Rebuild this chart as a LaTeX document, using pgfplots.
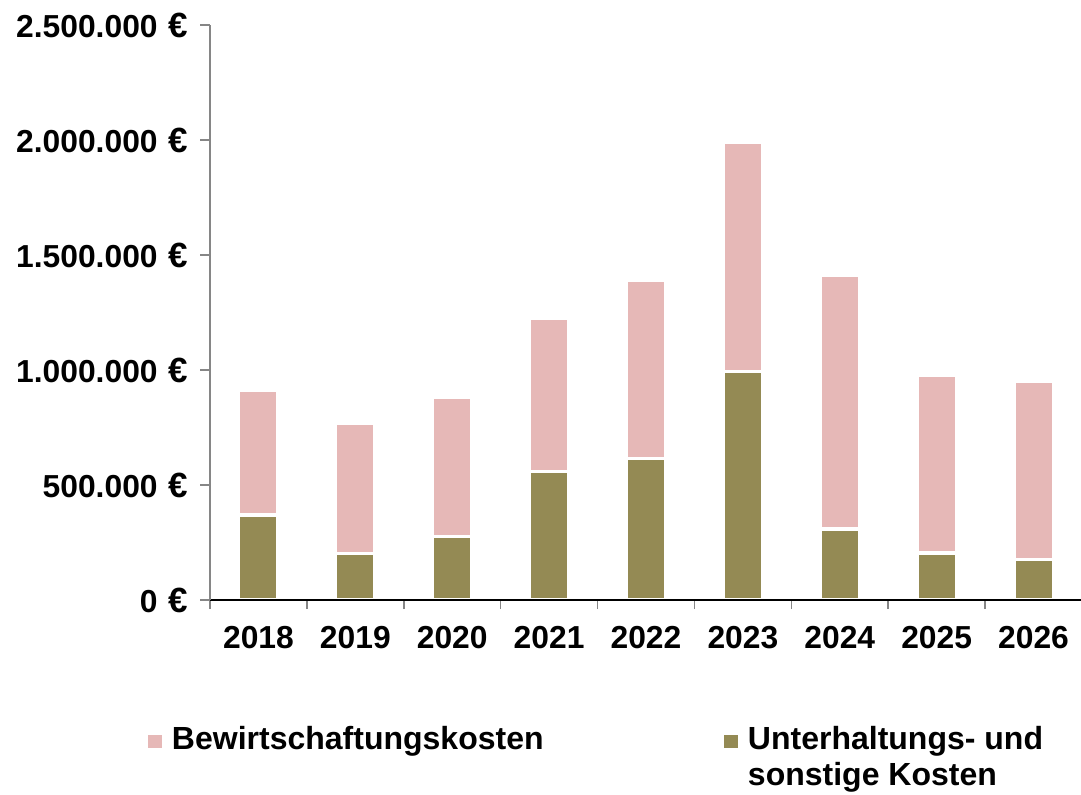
\documentclass[border=0pt]{standalone}
\usepackage{fontspec}
\setmainfont{Liberation Sans}
\usepackage{pgfplots}
\pgfplotsset{compat=1.18}
\definecolor{pinkc}{HTML}{E6B8B7}
\definecolor{olivec}{HTML}{948A54}
\definecolor{axgray}{HTML}{868686}

\pgfplotstableread{
x green pink
0 370000 542000
1 201000 568000
2 276000 605000
3 558000 666000
4 614000 776000
5 993000 997000
6 309000 1101000
7 204000 774000
8 176000 775000
}\costs

\begin{document}
\begin{tikzpicture}
\useasboundingbox (0,0) rectangle (540.5pt,397pt);
\begin{axis}[
  at={(105pt,97pt)}, anchor=south west,
  scale only axis, width=436pt, height=287.5pt,
  xmin=-0.5, xmax=8.5, ymin=0, ymax=2500000,
  ybar stacked, bar width=19.6pt,
  axis x line*=bottom, axis y line*=left,
  x axis line style={black, line width=1.2pt},
  y axis line style={axgray, line width=1pt},
  axis on top,
  xtick={0,...,8},
  xticklabels={2018,2019,2020,2021,2022,2023,2024,2025,2026},
  major x tick style={draw=none},
  minor xtick={-0.5,0.5,...,8.5},
  minor x tick style={axgray, line width=0.8pt},
  minor tick length=4.5pt,
  ytick={0,500000,1000000,1500000,2000000,2500000},
  major tick length=5pt,
  y tick style={axgray, line width=1pt},
  tick align=outside,
  scaled y ticks=false,
  yticklabel={\pgfmathprintnumber[fixed,precision=0,1000 sep={.},assume math mode=true]{\tick}\hspace{0.33em}{\fontsize{17.5}{17}\selectfont €}},
  tick label style={font=\fontsize{15.9}{17}\selectfont\bfseries},
  yticklabel style={anchor=east, inner sep=0pt, xshift=-6pt},
  xticklabel style={anchor=north, inner sep=0pt, yshift=-8pt},
  legend columns=2,
  legend image code/.code={\fill[#1, draw=none] (0pt,0.7pt) rectangle (7pt,7.3pt);},
  legend style={at={(-0.0711,-0.219)}, anchor=north west, draw=none, fill=none,
    inner sep=0pt, outer sep=0pt, column sep=0pt,
    font=\fontsize{16}{18}\selectfont\bfseries,
    cells={anchor=base west}, nodes={inner sep=0pt, outer sep=0pt},
    /tikz/every odd column/.append style={column sep=5pt}},
]
\addplot[fill=olivec, draw=white, line width=1.6pt, forget plot] table[x=x, y=green] {\costs};
\addplot[fill=pinkc, draw=white, line width=1.6pt, forget plot] table[x=x, y=pink] {\costs};
\addlegendimage{fill=pinkc}
\addlegendentry{\makebox[276pt][l]{Bewirtschaftungskosten}}
\addlegendimage{fill=olivec}
\addlegendentry{\parbox[t]{170pt}{Unterhaltungs- und\\sonstige Kosten}}
\end{axis}
\end{tikzpicture}
\end{document}
